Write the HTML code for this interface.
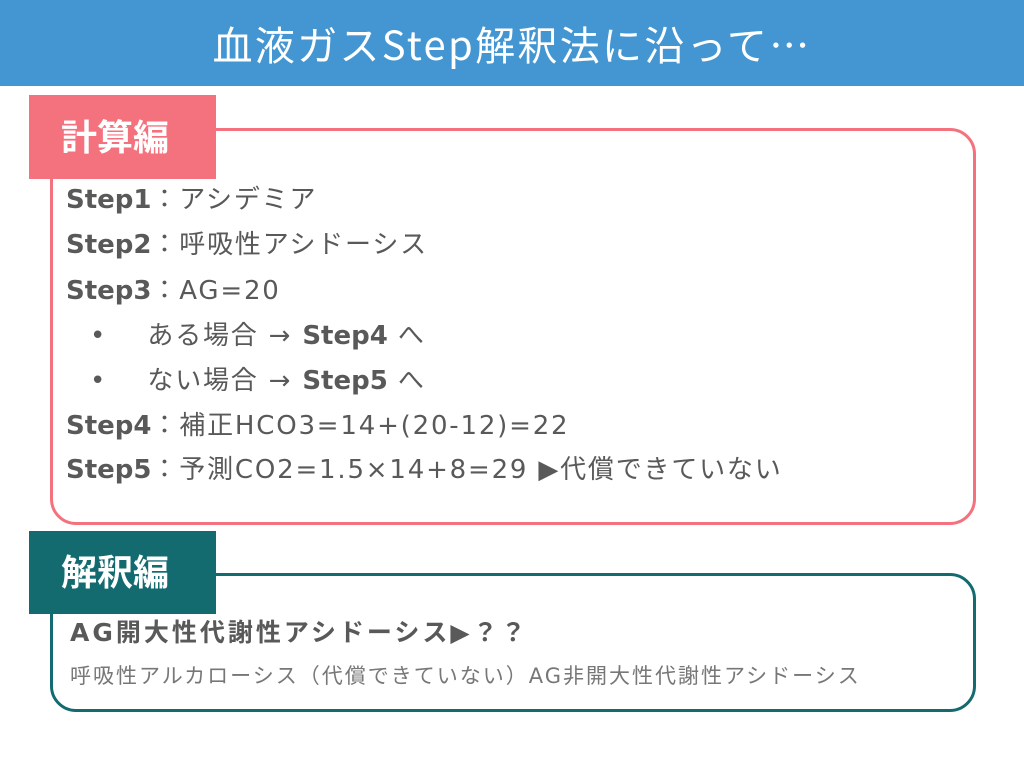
<!DOCTYPE html>
<html><head><meta charset="utf-8"><style>
body{margin:0;width:1024px;height:768px;background:#fff;position:relative;overflow:hidden;font-family:"DejaVu Sans","Noto Sans CJK JP",sans-serif;color:#595959}
.hdr{position:absolute;left:0;top:0;width:1024px;height:86px;background:#4396d1;color:#fff;font-size:40px;letter-spacing:2.3px;text-align:center;line-height:86px;font-family:"Noto Sans CJK JP","DejaVu Sans",sans-serif}
.box{position:absolute;left:50px;width:920px;border:3px solid;border-radius:26px;box-sizing:content-box}
.tab{position:absolute;left:29px;width:187px;color:#fff;font-weight:bold;font-size:36px;padding-left:32px;box-sizing:border-box;font-family:"Noto Sans CJK JP",sans-serif}
.l{position:absolute;left:66px;font-size:26px;line-height:30px;white-space:nowrap;letter-spacing:1.8px}
.l b{letter-spacing:0}
b{font-weight:bold}
</style></head><body>
<div class="hdr">血液ガスStep解釈法に沿って…</div>
<div class="box" style="top:128px;height:391px;border-color:#f4717e"></div>
<div class="tab" style="top:95px;height:84px;background:#f4717e;line-height:80px">計算編</div>
<div class="l" style="top:185px"><b>Step1</b>：アシデミア</div>
<div class="l" style="top:230px"><b>Step2</b>：呼吸性アシドーシス</div>
<div class="l" style="top:276px"><b>Step3</b>：AG=20</div>
<div class="l" style="top:321px;left:90px">•&nbsp;&nbsp;&nbsp;&nbsp;ある場合 → <b>Step4</b> へ</div>
<div class="l" style="top:366px;left:90px">•&nbsp;&nbsp;&nbsp;&nbsp;ない場合 → <b>Step5</b> へ</div>
<div class="l" style="top:411px"><b>Step4</b>：補正HCO3=14+(20-12)=22</div>
<div class="l" style="top:455px"><b>Step5</b>：予測CO2=1.5×14+8=29 ▶代償できていない</div>
<div class="box" style="top:573px;height:133px;border-color:#136b70"></div>
<div class="tab" style="top:531px;height:83px;background:#136b70;line-height:78px">解釈編</div>
<div class="l" style="top:618px;left:70px;font-size:25px;font-weight:bold;letter-spacing:3px">AG開大性代謝性アシドーシス▶？？</div>
<div class="l" style="top:661px;left:70px;font-size:21px;color:#777;letter-spacing:2px">呼吸性アルカローシス（代償できていない）AG非開大性代謝性アシドーシス</div>
</body></html>
